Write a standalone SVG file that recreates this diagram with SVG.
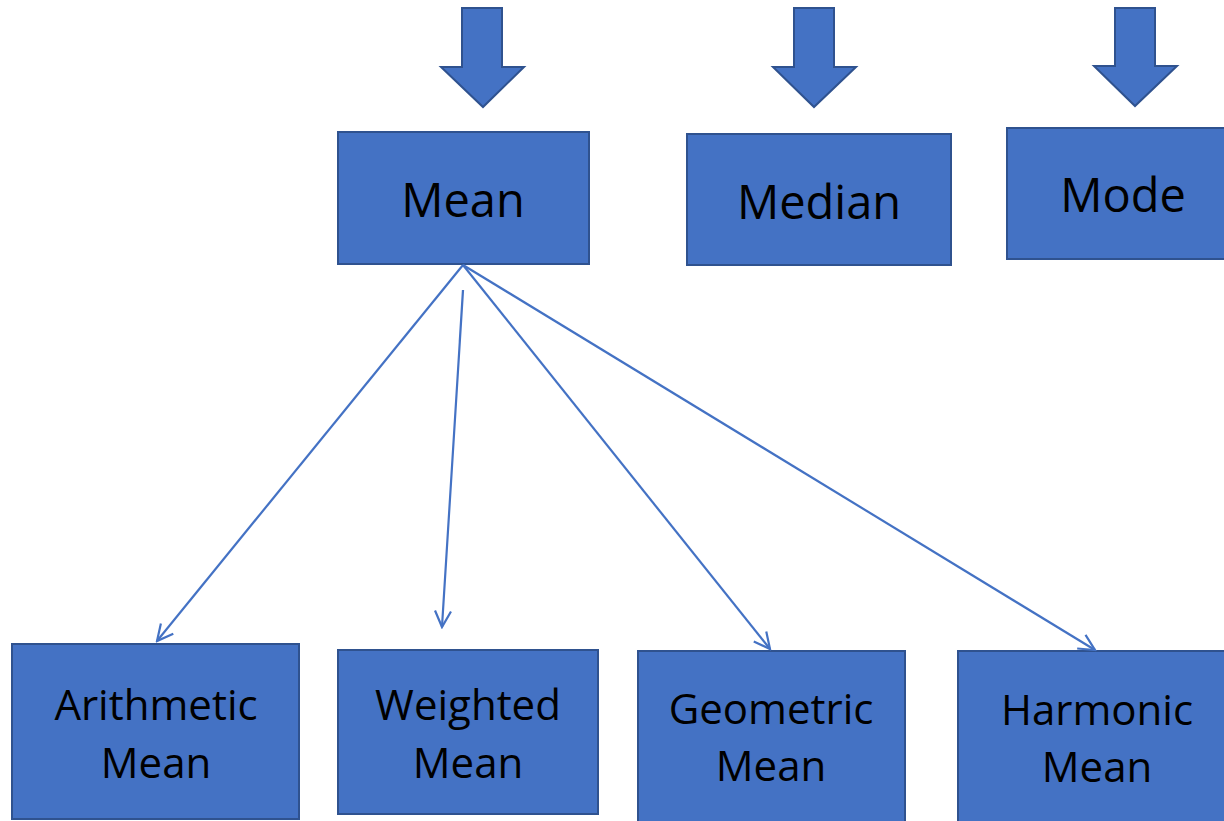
<svg xmlns="http://www.w3.org/2000/svg" width="1224" height="821" viewBox="0 0 1224 821">
<defs>
<style>
.box{fill:#4472C4;stroke:#2F528F;stroke-width:2}
.big{font-family:"Open Sans","Liberation Sans",sans-serif;font-size:47px;fill:#000;text-anchor:middle}
.lbl{font-family:"Open Sans","Liberation Sans",sans-serif;font-size:42px;fill:#000;text-anchor:middle}
.conn{stroke:#4472C4;stroke-width:2.2;fill:none}
</style>
<marker id="arr" viewBox="0 0 20 20" refX="18" refY="10" markerWidth="20" markerHeight="20" markerUnits="userSpaceOnUse" orient="auto">
<path d="M2,2 L18,10 L2,18" fill="none" stroke="#4472C4" stroke-width="2.2"/>
</marker>
</defs>
<g id="arrow1"><polygon class="box" points="462,8 502,8 502,67 524,67 483,107 441,67 462,67"/></g>
<g id="arrow2"><polygon class="box" points="794,8 834,8 834,67 856,67 814,107 773,67 794,67"/></g>
<g id="arrow3"><polygon class="box" points="1115,8 1155,8 1155,66 1177,66 1135,106 1094,66 1115,66"/></g>
<g id="mean"><rect class="box" x="338" y="132" width="251" height="132"/><text class="big" x="463" y="217">Mean</text></g>
<g id="median"><rect class="box" x="687" y="134" width="264" height="131"/><text class="big" x="819" y="219">Median</text></g>
<g id="mode"><rect class="box" x="1007" y="128" width="230" height="131"/><text class="big" x="1123" y="212">Mode</text></g>
<g id="arith"><rect class="box" x="12" y="644" width="287" height="175"/><text class="lbl" x="156" y="720">Arithmetic</text><text class="lbl" x="156" y="778">Mean</text></g>
<g id="weighted"><rect class="box" x="338" y="650" width="260" height="164"/><text class="lbl" x="468" y="720">Weighted</text><text class="lbl" x="468" y="778">Mean</text></g>
<g id="geometric"><rect class="box" x="638" y="651" width="267" height="175"/><text class="lbl" x="771" y="724">Geometric</text><text class="lbl" x="771" y="781">Mean</text></g>
<g id="harmonic"><rect class="box" x="958" y="651" width="280" height="175"/><text class="lbl" x="1097" y="725">Harmonic</text><text class="lbl" x="1097" y="782">Mean</text></g>
<g id="connectors">
<line class="conn" x1="463" y1="265" x2="157" y2="641" marker-end="url(#arr)"/>
<line class="conn" x1="463" y1="290" x2="442" y2="627" marker-end="url(#arr)"/>
<line class="conn" x1="463" y1="265" x2="770" y2="649" marker-end="url(#arr)"/>
<line class="conn" x1="463" y1="265" x2="1095" y2="650" marker-end="url(#arr)"/>
</g>
</svg>
